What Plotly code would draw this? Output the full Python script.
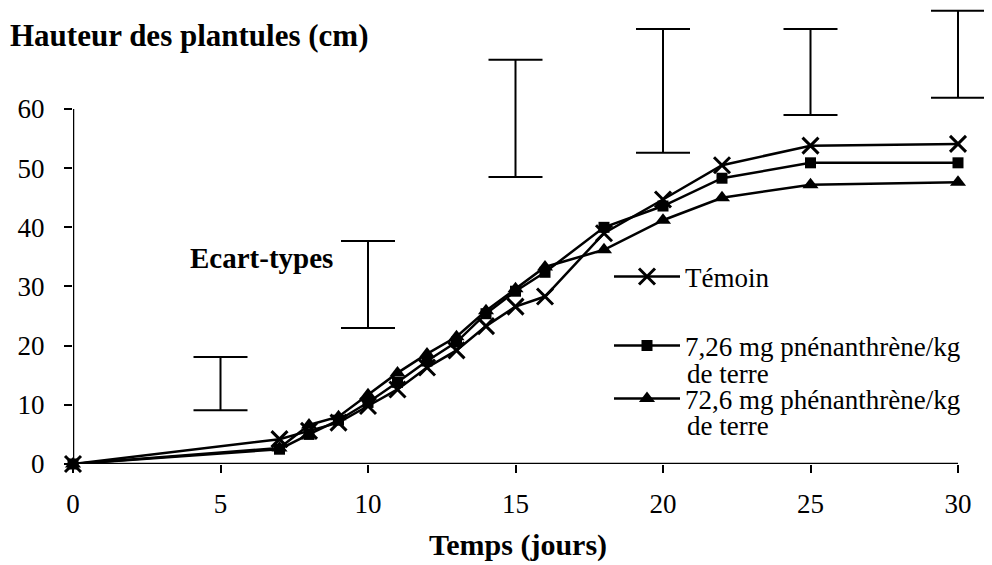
import plotly.graph_objects as go

# ---- data ----
days = [0, 7, 8, 9, 10, 11, 12, 13, 14, 15, 16, 18, 20, 22, 25, 30]
temoin = [0, 4.2, 5.6, 7.0, 9.8, 12.6, 16.3, 19.2, 23.3, 26.6, 28.3, 39.0, 44.7, 50.5, 53.8, 54.1]
phe_726 = [0, 2.5, 5.0, 7.4, 10.4, 13.8, 17.4, 20.6, 25.4, 29.2, 32.4, 40.0, 43.6, 48.3, 50.9, 50.9]
phe_72_6 = [0, 2.7, 6.6, 8.0, 11.7, 15.4, 18.6, 21.5, 25.9, 29.6, 33.3, 36.2, 41.2, 45.0, 47.2, 47.6]

sd_days = [5, 10, 15, 20, 25, 30]
sd_low = [9.1, 23.0, 48.5, 52.6, 59.0, 61.9]
sd_high = [18.1, 37.7, 68.3, 73.5, 73.5, 76.6]

name_temoin = "Témoin"
name_726 = "7,26 mg pnénanthrène/kg"
name_726_2 = "de terre"
name_72_6 = "72,6 mg phénanthrène/kg"
name_72_6_2 = "de terre"

x_ticks = [0, 5, 10, 15, 20, 25, 30]
y_ticks = [0, 10, 20, 30, 40, 50, 60]

FONT = "Liberation Serif, Times New Roman, serif"

sd_center = [(a + b) / 2 for a, b in zip(sd_low, sd_high)]
sd_half = [(b - a) / 2 for a, b in zip(sd_low, sd_high)]

fig = go.Figure()

fig.add_trace(go.Scatter(
    x=days, y=temoin, name=name_temoin, mode="lines+markers",
    line=dict(color="black", width=2.5),
    marker=dict(symbol="x-thin", size=16, color="black", line=dict(color="black", width=3)),
    cliponaxis=False, legend="legend"))
fig.add_trace(go.Scatter(
    x=days, y=phe_726, name=name_726, mode="lines+markers",
    line=dict(color="black", width=2.5),
    marker=dict(symbol="square", size=11, color="black"),
    cliponaxis=False, legend="legend2"))
fig.add_trace(go.Scatter(
    x=days, y=phe_72_6, name=name_72_6, mode="lines+markers",
    line=dict(color="black", width=2.5),
    marker=dict(symbol="triangle-up", size=14, color="black"),
    cliponaxis=False, legend="legend3"))

fig.add_trace(go.Scatter(
    x=sd_days, y=sd_center, mode="markers",
    marker=dict(size=1, color="rgba(0,0,0,0)"),
    error_y=dict(type="data", array=sd_half, symmetric=True,
                 color="black", thickness=2, width=27),
    showlegend=False, hoverinfo="skip", cliponaxis=False))

# axis lines limited to the data extent
fig.add_shape(type="line", xref="x", yref="y", x0=0, x1=0, y0=0, y1=60,
              line=dict(color="black", width=2.5))
fig.add_shape(type="line", xref="x", yref="y", x0=0, x1=30, y0=0, y1=0,
              line=dict(color="black", width=2.5))

# page has an 8px body margin: screen px -> paper coords
PLOT_L, PLOT_W = 73, 917
PLOT_B, PLOT_H = 464, 456

def px2x(px):
    return (px - PLOT_L) / PLOT_W

def py2y(py):
    return (PLOT_B - py) / PLOT_H

leg_common = dict(font=dict(family=FONT, size=27, color="black"),
                  bgcolor="rgba(0,0,0,0)", xanchor="left", yanchor="middle",
                  itemwidth=66, borderwidth=0)

fig.update_layout(
    width=992, height=565,
    margin=dict(l=65, r=10, t=0, b=109),
    paper_bgcolor="white", plot_bgcolor="white",
    font=dict(family=FONT, size=27, color="black"),
    showlegend=True,
    legend=dict(x=px2x(609), y=py2y(277), **leg_common),
    legend2=dict(x=px2x(609), y=py2y(346), **leg_common),
    legend3=dict(x=px2x(609), y=py2y(399), **leg_common),
    xaxis=dict(range=[0, PLOT_W / 29.5], tickvals=x_ticks, ticks="outside", ticklen=8,
               tickwidth=2, tickcolor="black", showline=False, showgrid=False,
               zeroline=False, tickfont=dict(family=FONT, size=27),
               ticklabelstandoff=8),
    yaxis=dict(range=[0, PLOT_H / 5.917], tickvals=y_ticks, ticks="outside", ticklen=8,
               tickwidth=2, tickcolor="black", showline=False, showgrid=False,
               zeroline=False, tickfont=dict(family=FONT, size=27),
               ticklabelstandoff=14),
    annotations=[
        dict(text="<b>Hauteur des plantules (cm)</b>", xref="paper", yref="paper",
             x=px2x(8), y=py2y(35), xanchor="left", yanchor="middle",
             showarrow=False, font=dict(family=FONT, size=31)),
        dict(text="<b>Ecart-types</b>", xref="paper", yref="paper",
             x=px2x(188), y=py2y(258), xanchor="left", yanchor="middle",
             showarrow=False, font=dict(family=FONT, size=29)),
        dict(text="<b>Temps (jours)</b>", xref="paper", yref="paper",
             x=px2x(518), y=py2y(545), xanchor="center", yanchor="middle",
             showarrow=False, font=dict(family=FONT, size=30)),
        dict(text=name_726_2, xref="paper", yref="paper",
             x=px2x(685), y=py2y(374), xanchor="left", yanchor="middle",
             showarrow=False, font=dict(family=FONT, size=27)),
        dict(text=name_72_6_2, xref="paper", yref="paper",
             x=px2x(685), y=py2y(426), xanchor="left", yanchor="middle",
             showarrow=False, font=dict(family=FONT, size=27)),
    ],
)

fig.write_html("out.html")
